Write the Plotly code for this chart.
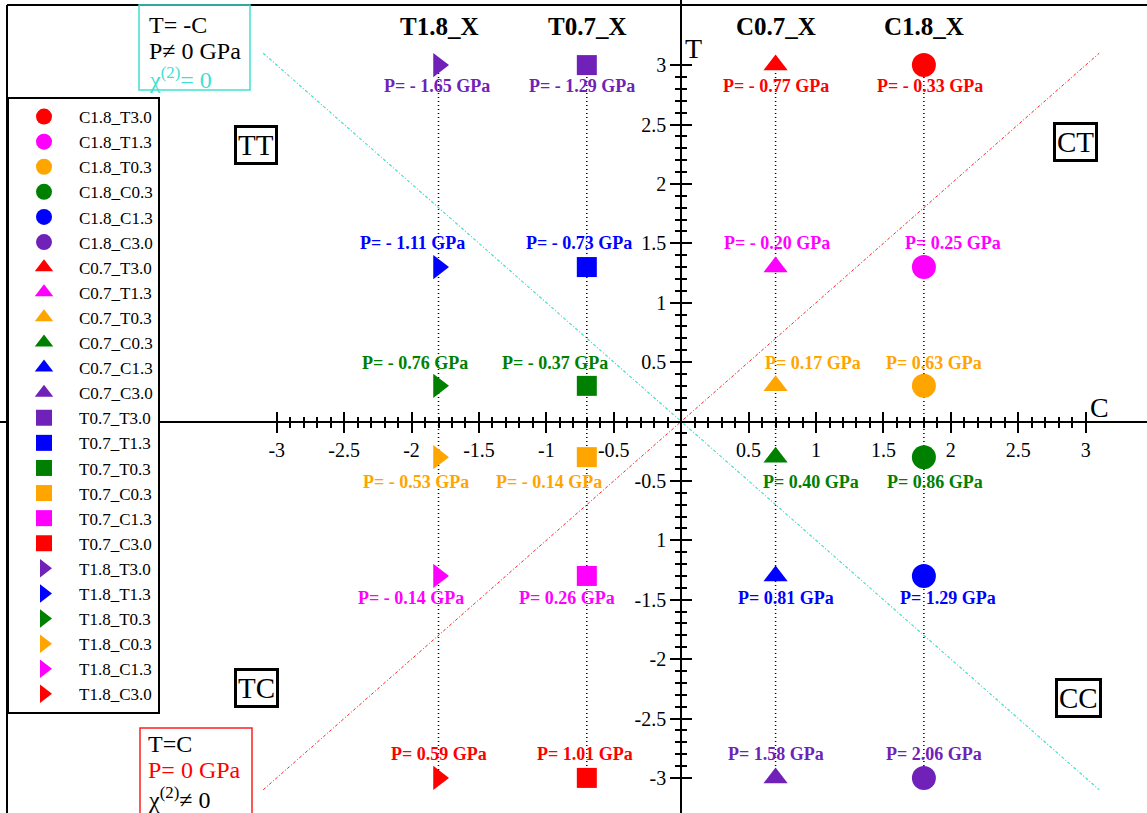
import plotly.graph_objects as go

# ---------------- data ----------------
columns = ["C1.8", "C0.7", "T0.7", "T1.8"]
column_x = [1.8, 0.7, -0.7, -1.8]
rows = ["T3.0", "T1.3", "T0.3", "C0.3", "C1.3", "C3.0"]
row_y = [3.0, 1.3, 0.3, -0.3, -1.3, -3.0]

p_C18 = [-0.33, 0.25, 0.63, 0.86, 1.29, 2.06]
p_C07 = [-0.77, -0.20, 0.17, 0.40, 0.81, 1.58]
p_T07 = [-1.29, -0.73, -0.37, -0.14, 0.26, 1.01]
p_T18 = [-1.65, -1.11, -0.76, -0.53, -0.14, 0.59]
pressures = [p_C18, p_C07, p_T07, p_T18]

x_tick_vals = [-3, -2.5, -2, -1.5, -1, -0.5, 0.5, 1, 1.5, 2, 2.5, 3]
x_tick_text = ["-3", "-2.5", "-2", "-1.5", "-1", "-0.5", "0.5", "1", "1.5", "2", "2.5", "3"]
y_tick_vals = [3, 2.5, 2, 1.5, 1, 0.5, -0.5, -1, -1.5, -2, -2.5, -3]
y_tick_text = ["3", "2.5", "2", "1.5", "1", "0.5", "-0.5", "1", "-1.5", "-2", "-2.5", "-3"]

# ---------------- styles ----------------
W, H = 1147, 813
X0PIX, Y0PIX = 681.2, 421.5
SX, SY = 134.83, 118.8
x_range = [(0 - X0PIX) / SX, (W - X0PIX) / SX]
y_range = [(Y0PIX - H) / SY, Y0PIX / SY]

FONT = "Liberation Serif"
PURPLE = "#7022b8"
CYAN = "#40e0d0"
colors_C = ["#ff0000", "#ff00ff", "#ffa500", "#008000", "#0000ff", PURPLE]
colors_T = [PURPLE, "#0000ff", "#008000", "#ffa500", "#ff00ff", "#ff0000"]
column_colors = [colors_C, colors_C, colors_T, colors_T]
column_symbol = ["circle", "triangle-up", "square", "triangle-right"]
column_msize = [24, 21, 20, 21]
row_yshift = [-21, 24, 23, -25, -22, 24]
label_xshift = [
    [6, 29, 10, 11, 24, 10],
    [0, 1, 37, 35, 10, 0],
    [-5, -8, -32, -38, -20, -2],
    [-2, -26, -24, -23, -28, 0],
]


def px(xp):
    return xp / W


def py(yp):
    return 1 - yp / H


fig = go.Figure()

# dotted column guides
for cx in column_x:
    fig.add_trace(go.Scatter(x=[cx, cx], y=[row_y[0], row_y[-1]], mode="lines",
                             line=dict(color="black", width=1.5, dash="1px,3px"),
                             showlegend=False, hoverinfo="skip"))

# diagonals T=C and T=-C
fig.add_trace(go.Scatter(x=[-3.1, 3.1], y=[-3.1, 3.1], mode="lines",
                         line=dict(color="#ff2020", width=1, dash="3px,2px,1px,2px"),
                         showlegend=False, hoverinfo="skip"))
fig.add_trace(go.Scatter(x=[-3.1, 3.1], y=[3.1, -3.1], mode="lines",
                         line=dict(color=CYAN, width=1.2, dash="3px,2px,1px,2px"),
                         showlegend=False, hoverinfo="skip"))

annotations = []
for ci, col in enumerate(columns):
    for ri, r in enumerate(rows):
        c = column_colors[ci][ri]
        fig.add_trace(go.Scatter(
            x=[column_x[ci]], y=[row_y[ri]], mode="markers", name=f"{col}_{r}",
            marker=dict(symbol=column_symbol[ci], size=column_msize[ci], color=c,
                        line=dict(width=0))))
        p = pressures[ci][ri]
        txt = f"P= - {abs(p):.2f} GPa" if p < 0 else f"P= {p:.2f} GPa"
        annotations.append(dict(x=column_x[ci], y=row_y[ri], xref="x", yref="y",
                                text=f"<b>{txt}</b>", showarrow=False,
                                xanchor="center", yanchor="middle",
                                xshift=label_xshift[ci][ri], yshift=row_yshift[ri],
                                font=dict(family=FONT, size=18, color=c)))
    annotations.append(dict(x=column_x[ci], y=py(27), xref="x", yref="paper",
                            text=f"<b>{col}_X</b>", showarrow=False,
                            xanchor="center", yanchor="middle",
                            font=dict(family=FONT, size=25, color="black")))

# dummy traces for the second tick axes
fig.add_trace(go.Scatter(x=[0], y=[0], xaxis="x2", yaxis="y", mode="markers",
                         marker=dict(opacity=0), showlegend=False, hoverinfo="skip"))
fig.add_trace(go.Scatter(x=[0], y=[0], xaxis="x", yaxis="y2", mode="markers",
                         marker=dict(opacity=0), showlegend=False, hoverinfo="skip"))

# axis titles
annotations.append(dict(x=px(1099), y=py(407), xref="paper", yref="paper", text="C",
                        xanchor="center", yanchor="middle",
                        showarrow=False, font=dict(family=FONT, size=28, color="black")))
annotations.append(dict(x=px(693), y=py(49), xref="paper", yref="paper", text="T",
                        xanchor="center", yanchor="middle",
                        showarrow=False, font=dict(family=FONT, size=28, color="black")))

# quadrant boxes
for t, xp_, yp_ in [("TT", 256, 145), ("CT", 1075, 142), ("TC", 256, 688), ("CC", 1078, 698)]:
    annotations.append(dict(x=px(xp_), y=py(yp_), xref="paper", yref="paper", text=t,
                            xanchor="center", yanchor="middle",
                            showarrow=False, bordercolor="black", borderwidth=3, borderpad=1,
                            bgcolor="white",
                            font=dict(family=FONT, size=29, color="black")))

# condition boxes text
for t, yp_, c in [("T= -C", 25, "black"), ("P\u2260 0 GPa", 51, "black"),
                  ("\u03c7<sup>(2)</sup>= 0", 78, CYAN)]:
    annotations.append(dict(x=px(147), y=py(yp_), xref="paper", yref="paper", text=t,
                            xanchor="left", yanchor="middle", showarrow=False,
                            font=dict(family=FONT, size=24, color=c)))
for t, yp_, c in [("T=C", 744, "black"), ("P= 0 GPa", 770, "#ff0000"),
                  ("\u03c7<sup>(2)</sup>\u2260 0", 798, "black")]:
    annotations.append(dict(x=px(146), y=py(yp_), xref="paper", yref="paper", text=t,
                            xanchor="left", yanchor="middle", showarrow=False,
                            font=dict(family=FONT, size=24, color=c)))

shapes = [
    dict(type="line", xref="paper", yref="paper", x0=px(7), x1=1, y0=py(5), y1=py(5),
         line=dict(color="black", width=2)),
    dict(type="line", xref="paper", yref="paper", x0=px(7), x1=px(7), y0=0, y1=py(5),
         line=dict(color="black", width=2)),
    dict(type="rect", xref="paper", yref="paper", x0=px(139), x1=px(250), y0=py(90), y1=py(5),
         line=dict(color=CYAN, width=1.5)),
    dict(type="rect", xref="paper", yref="paper", x0=px(140), x1=px(252), y0=py(820), y1=py(728),
         line=dict(color="#ff2020", width=1.5)),
]

minor_x = [round(-3 + 0.1 * i, 1) for i in range(61)]
minor_y = minor_x

xpos = (H - Y0PIX) / H
ypos = X0PIX / W

common_x = dict(range=x_range, showgrid=False, zeroline=False, linecolor="black", linewidth=2,
                tickcolor="black", tickwidth=2, ticklen=10,
                tickfont=dict(family=FONT, size=20, color="black"))
common_y = dict(range=y_range, showgrid=False, zeroline=False, linecolor="black", linewidth=2,
                tickcolor="black", tickwidth=2, ticklen=10,
                tickfont=dict(family=FONT, size=20, color="black"))
minor_xd = dict(tickmode="array", tickvals=minor_x, ticks="outside", ticklen=5, tickwidth=1.5,
                tickcolor="black", showgrid=False)
minor_yd = dict(tickmode="array", tickvals=minor_y, ticks="outside", ticklen=5, tickwidth=1.5,
                tickcolor="black", showgrid=False)

fig.update_layout(
    width=W, height=H, autosize=False,
    margin=dict(l=0, r=0, t=0, b=0, pad=0),
    paper_bgcolor="white", plot_bgcolor="white",
    xaxis=dict(**common_x, anchor="free", position=xpos, side="bottom", ticks="outside",
               showline=True, tickmode="array", tickvals=x_tick_vals, ticktext=x_tick_text,
               minor=minor_xd, domain=[0, 1]),
    xaxis2=dict(**common_x, anchor="free", position=xpos, side="top", overlaying="x",
                ticks="outside", showline=False, tickmode="array", tickvals=x_tick_vals,
                showticklabels=False, minor=minor_xd),
    yaxis=dict(**common_y, anchor="free", position=ypos, side="left", ticks="outside",
               showline=True, tickmode="array", tickvals=y_tick_vals, ticktext=y_tick_text,
               minor=minor_yd, domain=[0, 1]),
    yaxis2=dict(**common_y, anchor="free", position=ypos, side="right", overlaying="y",
                ticks="outside", showline=False, tickmode="array", tickvals=y_tick_vals,
                showticklabels=False, minor=minor_yd),
    showlegend=True,
    legend=dict(x=px(7), y=py(97), xanchor="left", yanchor="top",
                bordercolor="black", borderwidth=2, bgcolor="white",
                font=dict(family=FONT, size=17, color="black"),
                itemsizing="trace", itemwidth=60, tracegroupgap=0),
    annotations=annotations,
    shapes=shapes,
)

fig.write_html("out.html")
